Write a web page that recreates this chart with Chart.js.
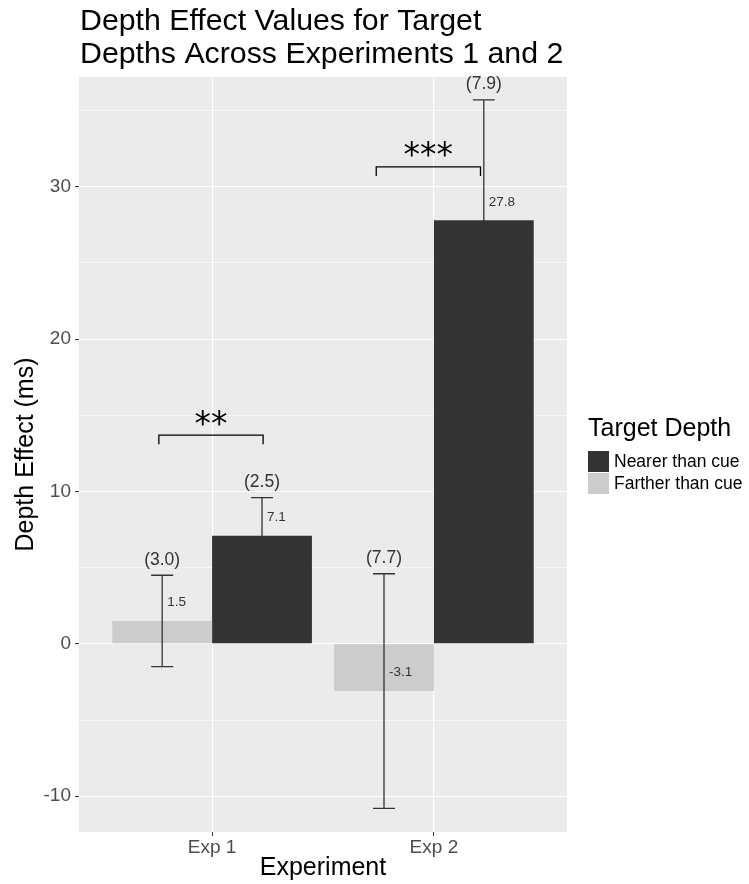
<!DOCTYPE html>
<html>
<head>
<meta charset="utf-8">
<title>Depth Effect Values</title>
<script src="https://cdn.jsdelivr.net/npm/chart.js@4"></script>
<style>
    html, body { margin: 0; padding: 0; background: #ffffff; }
    #wrap { width: 749px; height: 884px; }
</style>
</head>
<body>
<div id="wrap"><canvas id="depthChart" width="749" height="884"></canvas></div>
<script>
// Data
const experiments = ["Exp 1", "Exp 2"];
const expPositions = [1, 2];
const fartherMeans = [1.5, -3.1];
const fartherSE = [3.0, 7.7];
const nearerMeans = [7.1, 27.8];
const nearerSE = [2.5, 7.9];
const yTicks = [-10, 0, 10, 20, 30];
const yMinorTicks = [-5, 5, 15, 25, 35];

// significance brackets (x in axis units, y in ms)
const sigLeft = [0.76, 1.74];
const sigRight = [1.23, 2.21];
const sigHeight = [13.7, 31.3];
const sigLabels = ["**", "***"];

const FONT = '"Liberation Sans", Arial, Helvetica, sans-serif';

function toPoints(values) {
    return expPositions.map((x, i) => ({ x: x, y: values[i] }));
}

// draws panel background, error bars, labels, brackets, title and legend
const ggDecor = {
    id: "ggDecor",
    beforeDraw(chart) {
        const { ctx, chartArea } = chart;
        ctx.save();
        ctx.fillStyle = "#FFFFFF";
        ctx.fillRect(0, 0, chart.width, chart.height);
        ctx.fillStyle = "#EBEBEB";
        ctx.fillRect(chartArea.left, chartArea.top, chartArea.right - chartArea.left, chartArea.bottom - chartArea.top);
        ctx.restore();
    },
    afterDatasetsDraw(chart) {
        const { ctx } = chart;
        const xScale = chart.scales.x;
        const yScale = chart.scales.y;

        chart.data.datasets.forEach((ds, d) => {
            const meta = chart.getDatasetMeta(d);
            meta.data.forEach((bar, i) => {
                const mean = ds.data[i].y;
                const se = ds.se[i];
                const x = bar.x;
                const yHi = yScale.getPixelForValue(mean + se);
                const yLo = yScale.getPixelForValue(mean - se);

                // error bar
                ctx.save();
                ctx.strokeStyle = "#333333";
                ctx.lineWidth = 1.3;
                ctx.beginPath();
                ctx.moveTo(x, yHi); ctx.lineTo(x, yLo);
                ctx.moveTo(x - 11, yHi); ctx.lineTo(x + 11, yHi);
                ctx.moveTo(x - 11, yLo); ctx.lineTo(x + 11, yLo);
                ctx.stroke();

                // SE label above bar
                ctx.fillStyle = "#333333";
                ctx.font = "17.5px " + FONT;
                ctx.textAlign = "center";
                ctx.textBaseline = "middle";
                ctx.fillText("(" + se.toFixed(1) + ")", x, yScale.getPixelForValue(mean + se + 1.0));

                // mean label
                ctx.font = "13.5px " + FONT;
                ctx.textAlign = "left";
                ctx.fillText(mean.toFixed(1), x + 5, yScale.getPixelForValue(mean + 1.2));
                ctx.restore();
            });
        });

        // significance brackets
        sigLabels.forEach((label, i) => {
            const x1 = xScale.getPixelForValue(sigLeft[i]);
            const x2 = xScale.getPixelForValue(sigRight[i]);
            const yTop = yScale.getPixelForValue(sigHeight[i]);
            const yLeg = yScale.getPixelForValue(sigHeight[i] - 0.6);
            ctx.save();
            ctx.strokeStyle = "#000000";
            ctx.lineWidth = 1.3;
            ctx.beginPath();
            ctx.moveTo(x1, yLeg); ctx.lineTo(x1, yTop);
            ctx.lineTo(x2, yTop); ctx.lineTo(x2, yLeg);
            ctx.stroke();
            ctx.fillStyle = "#000000";
            ctx.font = '33px "DejaVu Sans", sans-serif';
            ctx.textAlign = "center";
            ctx.textBaseline = "middle";
            ctx.fillText(label, (x1 + x2) / 2, yScale.getPixelForValue(sigHeight[i] + 0.6));
            ctx.restore();
        });
    },
    afterDraw(chart) {
        const { ctx } = chart;
        ctx.save();
        // title
        ctx.fillStyle = "#000000";
        ctx.font = "30.3px " + FONT;
        ctx.textAlign = "left";
        ctx.textBaseline = "alphabetic";
        ctx.fillText("Depth Effect Values for Target", 80, 30);
        ctx.fillText("Depths Across Experiments 1 and 2", 80, 63);

        // legend
        ctx.font = "25px " + FONT;
        ctx.fillText("Target Depth", 588, 436);
        const keys = chart.data.datasets.slice().reverse();
        keys.forEach((ds, i) => {
            const top = 451 + i * 22;
            ctx.fillStyle = "#F2F2F2";
            ctx.fillRect(588, top, 21, 21);
            ctx.fillStyle = ds.backgroundColor;
            ctx.fillRect(588, top, 21, 21);
            ctx.fillStyle = "#000000";
            ctx.font = "17.5px " + FONT;
            ctx.textBaseline = "middle";
            ctx.fillText(ds.label, 614, top + 11);
        });
        ctx.restore();
    }
};

const ctx = document.getElementById("depthChart").getContext("2d");
const chart = new Chart(ctx, {
    type: "bar",
    data: {
        datasets: [
            {
                label: "Farther than cue",
                data: toPoints(fartherMeans),
                se: fartherSE,
                backgroundColor: "#CCCCCC",
                borderWidth: 0
            },
            {
                label: "Nearer than cue",
                data: toPoints(nearerMeans),
                se: nearerSE,
                backgroundColor: "#333333",
                borderWidth: 0
            }
        ]
    },
    options: {
        responsive: false,
        animation: false,
        devicePixelRatio: 1,
        categoryPercentage: 0.9,
        barPercentage: 1.0,
        layout: { padding: { left: 0, top: 77, right: 182, bottom: 0 } },
        plugins: {
            legend: { display: false },
            tooltip: { enabled: false },
            title: { display: false }
        },
        scales: {
            x: {
                type: "linear",
                min: 0.4,
                max: 2.6,
                offset: false,
                afterBuildTicks: s => { s.ticks = expPositions.map(v => ({ value: v })); },
                afterFit: s => { s.height = 52; },
                ticks: {
                    callback: v => experiments[expPositions.indexOf(v)],
                    color: "#4D4D4D",
                    font: { family: FONT, size: 19 },
                    padding: 0,
                    maxRotation: 0,
                    autoSkip: false
                },
                grid: {
                    offset: false,
                    color: "#FFFFFF",
                    lineWidth: 1.1,
                    drawTicks: true,
                    tickLength: 4,
                    tickColor: "#333333",
                    tickWidth: 1
                },
                border: { display: false },
                title: {
                    display: true,
                    text: "Experiment",
                    color: "#000000",
                    font: { family: FONT, size: 25 },
                    padding: { top: 0, bottom: 1 }
                }
            },
            y: {
                min: -12.35,
                max: 37.2,
                afterBuildTicks: s => {
                    s.ticks = yTicks.concat(yMinorTicks).sort((a, b) => a - b).map(v => ({ value: v }));
                },
                afterFit: s => { s.width = 79; },
                ticks: {
                    callback: v => yTicks.includes(v) ? String(v) : "",
                    color: "#4D4D4D",
                    font: { family: FONT, size: 19 },
                    padding: 4,
                    autoSkip: false
                },
                grid: {
                    color: "#FFFFFF",
                    lineWidth: c => yTicks.includes(c.tick.value) ? 1.1 : 0.55,
                    drawTicks: true,
                    tickLength: 4,
                    tickColor: c => yTicks.includes(c.tick.value) ? "#333333" : "rgba(0,0,0,0)",
                    tickWidth: 1
                },
                border: { display: false },
                title: {
                    display: true,
                    text: "Depth Effect (ms)",
                    color: "#000000",
                    font: { family: FONT, size: 25 },
                    padding: { top: 11, bottom: 0 }
                }
            }
        }
    },
    plugins: [ggDecor]
});
</script>
</body>
</html>
